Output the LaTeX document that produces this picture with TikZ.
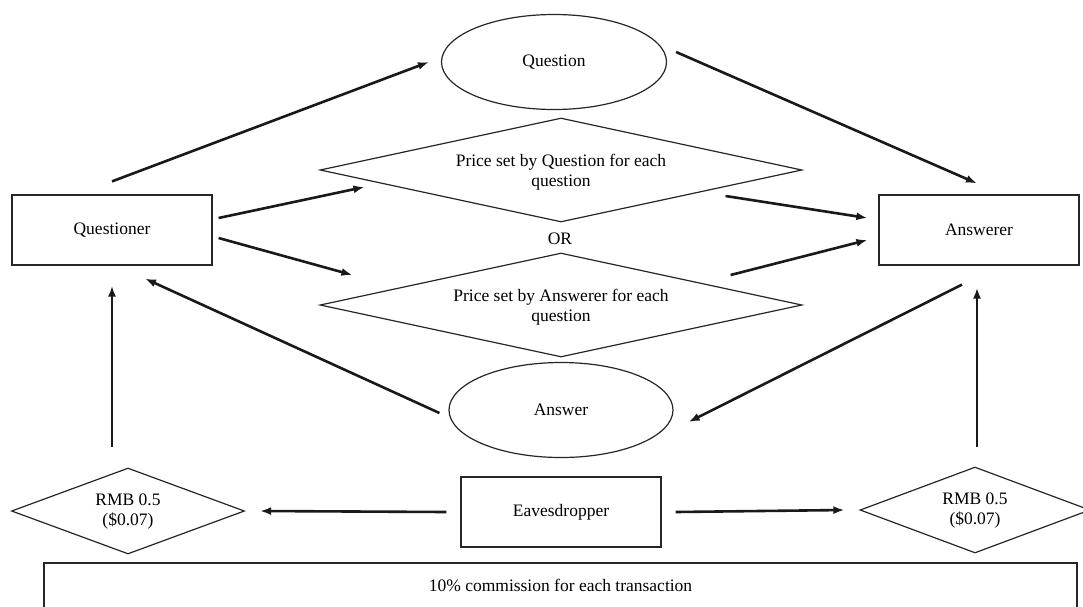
\documentclass[tikz,border=0pt]{standalone}
\usepackage{fontspec}
\setmainfont{Liberation Serif}
\usetikzlibrary{shapes.geometric,arrows.meta}
\begin{document}
\begin{tikzpicture}[x=1pt,y=-1pt,
  every node/.style={font=\fontsize{17.5}{20}\selectfont, align=center},
  shapeline/.style={draw=black!85, line width=1.2pt},
  boxnode/.style={shapeline, rectangle, inner sep=0pt, minimum width=200pt, minimum height=70pt},
  ellnode/.style={shapeline, ellipse, inner sep=0pt, minimum width=224pt, minimum height=95pt},
  dianode/.style={shapeline, diamond, inner sep=0pt},
  arr/.style={line width=2.6pt, draw=black!90, -{Latex[length=11pt,width=8pt]}}
]
\fill[white] (0,0) rectangle (1083,606);
\useasboundingbox (0,0) rectangle (1083,606);

\node[ellnode, minimum width=225pt] (q) at (554,62) {Question};
\node[dianode, minimum width=482pt, minimum height=104pt,
  label={[yshift=-2pt]center:Price set by Question for each\\question}] (d1) at (561,170) {};
\node (or) at (560,239) {OR};
\node[dianode, minimum width=482pt, minimum height=104pt,
  label={[yshift=-2pt]center:Price set by Answerer for each\\question}] (d2) at (561,305) {};
\node[ellnode] (a) at (561,410) {Answer};
\node[boxnode] (qr) at (112,230) {Questioner};
\node[boxnode] (ar) at (979,230) {Answerer};
\node[boxnode] (ed) at (561,512) {Eavesdropper};
\node[dianode, minimum width=233pt, minimum height=86pt,
  label={[yshift=-1pt]center:RMB 0.5\\(\$0.07)}] (rl) at (128,511) {};
\node[dianode, minimum width=230pt, minimum height=86pt,
  label={[yshift=-1pt]center:RMB 0.5\\(\$0.07)}] (rr) at (975,510) {};
\node[shapeline, rectangle, inner sep=0pt, minimum width=1033pt, minimum height=61pt,
  label={[yshift=8.5pt]center:10\% commission for each transaction}] (cm) at (560.5,593.5) {};

\draw[arr] ([yshift=13pt]qr.north) -- ([xshift=-12pt]q.west);
\draw[arr] ([xshift=9pt,yshift=10pt]q.east) -- ([xshift=-2pt,yshift=11pt]ar.north);
\draw[arr] ([xshift=6pt,yshift=12pt]qr.east) -- ([xshift=45pt,yshift=-17pt]d1.west);
\draw[arr] ([xshift=6pt,yshift=-8pt]qr.east) -- ([xshift=33pt,yshift=30pt]d2.west);
\draw[arr] ([xshift=-77pt,yshift=-26pt]d1.east) -- ([xshift=-11pt,yshift=12pt]ar.west);
\draw[arr] ([xshift=-72pt,yshift=30pt]d2.east) -- ([xshift=-11pt,yshift=-10pt]ar.west);
\draw[arr] ([xshift=-9pt,yshift=-3pt]a.west) -- ([xshift=33pt,yshift=-13pt]qr.south);
\draw[arr] ([xshift=-17pt,yshift=-19pt]ar.south) -- ([xshift=15pt,yshift=-12pt]a.east);
\draw[arr] ([xshift=-16pt,yshift=20pt]rl.north) -- ([yshift=-20pt]qr.south);
\draw[arr] ([xshift=2pt,yshift=19pt]rr.north) -- ([xshift=-2pt,yshift=-22pt]ar.south);
\draw[arr] ([xshift=-14pt]ed.west) -- ([xshift=15pt]rl.east);
\draw[arr] ([xshift=14pt]ed.east) -- ([xshift=-15pt]rr.west);
\end{tikzpicture}
\end{document}
